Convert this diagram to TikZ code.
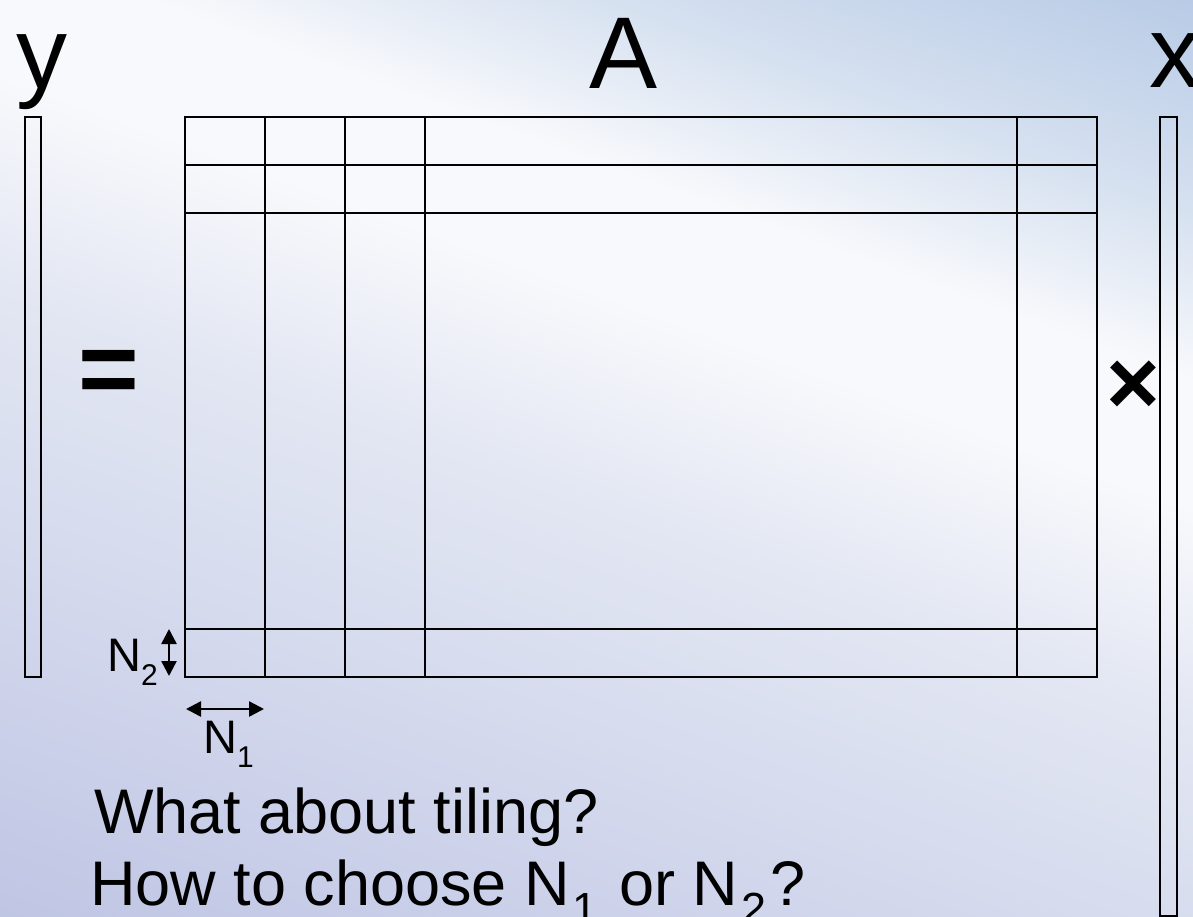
\documentclass[tikz,border=0pt]{standalone}
\usepackage{fontspec}
\setmainfont{Liberation Sans}
\usetikzlibrary{arrows.meta}
\definecolor{lavA}{HTML}{A8B0D8}
\definecolor{lavB}{HTML}{C8CEE8}
\definecolor{lavC}{HTML}{E3E7F3}
\definecolor{wht}{HTML}{F8F9FC}
\definecolor{lbl}{HTML}{D6E1F0}
\definecolor{mbl}{HTML}{B3C7E4}
\definecolor{dbl}{HTML}{98B2D9}
\pgfdeclareverticalshading{bgshade}{100bp}{color(0bp)=(lavA); color(25bp)=(lavB); color(48bp)=(lavC); color(58bp)=(wht); color(64bp)=(wht); color(72bp)=(lbl); color(84bp)=(mbl); color(100bp)=(dbl)}
\tikzset{
  vbox/.style={draw=black, line width=2.5bp, inner sep=0pt, outer sep=0pt, anchor=north west},
  gridline/.style={draw=black, line width=2.5bp},
  big/.style={font=\fontsize{102bp}{102bp}\selectfont, inner sep=0pt, anchor=base west},
  lab/.style={font=\fontsize{47bp}{47bp}\selectfont, inner sep=0pt, anchor=base west},
  dimarrow/.style={line width=2.5bp, {Triangle[width=15bp,length=15bp]}-{Triangle[width=15bp,length=15bp]}},
  question/.style={font=\fontsize{63bp}{63bp}\selectfont, inner sep=0pt, anchor=base west}
}
\newcommand\labsub[1]{\raisebox{-14bp}{\fontsize{30bp}{30bp}\selectfont #1}}
\newcommand\qsub[1]{\kern3bp\relax\raisebox{-19bp}{\fontsize{45bp}{45bp}\selectfont #1}\kern4bp\relax}
\begin{document}
\begin{tikzpicture}[x=1bp, y=-1bp]
\useasboundingbox (0,0) rectangle (1193,917);
\shade[shading=bgshade, shading angle=-20] (0,0) rectangle (1193,917);
% vectors and matrix
\node[vbox, minimum width=16bp, minimum height=560bp] (yv) at (25,117) {};
\node[vbox, minimum width=912bp, minimum height=560bp] (A) at (185,117) {};
\node[vbox, minimum width=17bp, minimum height=799bp] (xv) at (1160,117) {};
% grid
\foreach \gx in {265,345,425,1017} \draw[gridline] (\gx,117) -- (\gx,677);
\foreach \gy in {165,213,629} \draw[gridline] (185,\gy) -- (1097,\gy);
% labels
\node[big] (ylab) at (16,88) {y};
\node[big, anchor=base] (Alab) at (624,88) {A};
\node[big] (xlab) at (1149,87) {x};
\node[big, font=\fontsize{104bp}{104bp}\selectfont\bfseries] (eq) at (78,404) {=};
\node[big, font=\fontsize{92bp}{92bp}\selectfont\bfseries] (times) at (1106,414) {×};
% dimension arrows
\coordinate (n2a) at (169,629);
\coordinate (n2b) at (169,676);
\draw[dimarrow] (n2a) -- (n2b);
\coordinate (n1a) at (186,709);
\coordinate (n1b) at (264,709);
\draw[dimarrow] (n1a) -- (n1b);
\node[lab] (N2) at (107,671) {N\labsub{2}};
\node[lab] (N1) at (203,753) {N\labsub{1}};
% questions
\node[question] (q1) at (94,833) {What about tiling?};
\node[question] (q2) at (90,905) {How to choose N\qsub{1} or N\qsub{2}?};
\end{tikzpicture}
\end{document}
